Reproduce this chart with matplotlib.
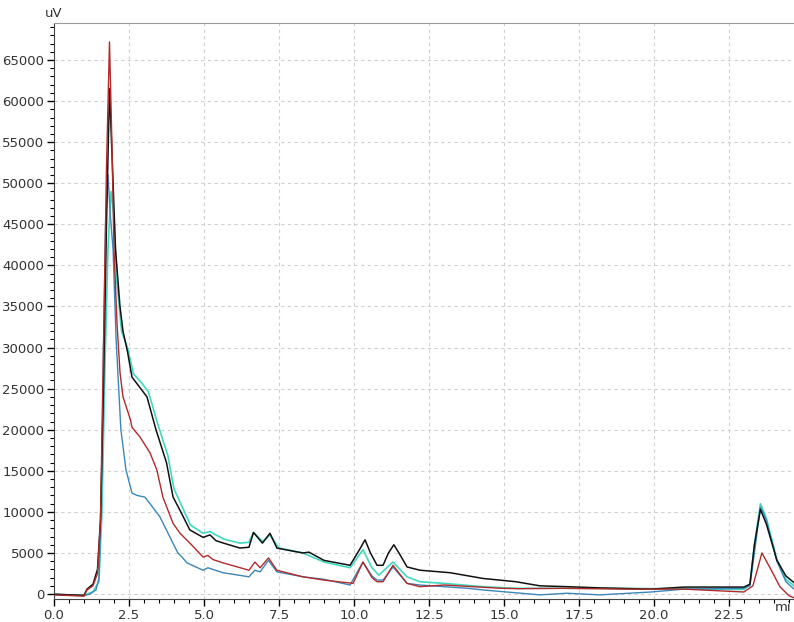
import numpy as np
import matplotlib.pyplot as plt
from matplotlib.ticker import MultipleLocator

# retention time (min) / signal (uV)
black_t = [0.0, 0.5, 1.0, 1.1, 1.3, 1.45, 1.55, 1.65, 1.75, 1.85, 1.95, 2.05, 2.2, 2.3, 2.45,
           2.6, 2.85, 3.1, 3.4, 3.75, 3.97, 4.2, 4.53, 4.97, 5.2, 5.4, 5.65, 6.2, 6.5, 6.65,
           6.95, 7.2, 7.43, 8.0, 8.3, 8.5, 9.0, 9.87, 10.2, 10.37, 10.55, 10.77, 10.97, 11.15,
           11.33, 11.5, 11.77, 12.2, 13.2, 14.3, 15.4, 16.2, 17.1, 18.2, 19.9, 21.0, 23.0,
           23.2, 23.35, 23.55, 23.75, 24.1, 24.4, 24.7]
black_v = [0, -100, -150, 600, 1200, 3000, 9000, 25000, 45000, 61500, 52000, 42000, 35000,
           32000, 29500, 26400, 25200, 24000, 20000, 16000, 11800, 10200, 7800, 6900, 7200,
           6500, 6200, 5600, 5700, 7500, 6200, 7400, 5600, 5200, 5000, 5100, 4100, 3500, 5500,
           6600, 5000, 3500, 3500, 5000, 6000, 5000, 3300, 2900, 2600, 1900, 1500, 1000, 900,
           750, 600, 850, 850, 1200, 6000, 10300, 8500, 4100, 2200, 1300]

red_t = [0.0, 1.0, 1.1, 1.3, 1.45, 1.55, 1.65, 1.75, 1.85, 1.93, 2.0, 2.1, 2.2, 2.3, 2.55,
         2.6, 2.87, 3.2, 3.43, 3.63, 3.97, 4.2, 4.53, 4.97, 5.13, 5.3, 5.63, 6.5, 6.7, 6.87,
         7.15, 7.43, 8.3, 9.0, 9.97, 10.3, 10.6, 10.77, 10.97, 11.3, 11.77, 12.2, 13.0, 14.9,
         15.5, 17.0, 19.0, 21.0, 23.0, 23.3, 23.6, 23.9, 24.2, 24.5, 24.7]
red_v = [-100, -250, 500, 1000, 2500, 9000, 30000, 52000, 67200, 55000, 42000, 33000, 27000,
         24000, 21200, 20300, 19100, 17200, 15100, 11800, 8600, 7400, 6200, 4500, 4700, 4200,
         3800, 2900, 3900, 3200, 4400, 2900, 2100, 1700, 1300, 3900, 2000, 1500, 1500, 3500,
         1300, 900, 1100, 700, 650, 700, 600, 600, 250, 1000, 5000, 3000, 900, -200, -500]

blue_t = [0.0, 1.0, 1.2, 1.4, 1.5, 1.58, 1.65, 1.72, 1.8, 1.88, 1.97, 2.07, 2.23, 2.4, 2.6,
          2.77, 3.03, 3.2, 3.53, 3.87, 4.13, 4.27, 4.43, 4.97, 5.13, 5.63, 6.5, 6.7, 6.87,
          7.15, 7.43, 8.3, 9.0, 9.87, 10.3, 10.6, 10.77, 10.97, 11.3, 11.77, 12.2, 13.8, 14.3,
          16.2, 17.1, 18.2, 19.9, 21.0, 23.0, 23.2, 23.35, 23.55, 23.75, 24.1, 24.4, 24.7]
blue_v = [-100, -200, 0, 500, 2000, 12000, 30000, 45000, 51000, 46000, 41900, 31000, 20000,
          15100, 12300, 12000, 11800, 11000, 9400, 6900, 5000, 4500, 3800, 2900, 3200, 2600,
          2100, 2900, 2700, 4100, 2700, 2100, 1800, 1100, 3900, 2200, 1700, 1700, 3300, 1300,
          1100, 700, 500, -100, 100, -100, 250, 600, 700, 1000, 5000, 10600, 9000, 4000, 1500, 500]

cyan_t = [0.0, 1.0, 1.3, 1.5, 1.6, 1.7, 1.8, 1.9, 2.0, 2.1, 2.25, 2.45, 2.65, 2.9, 3.15, 3.45,
          3.8, 4.0, 4.25, 4.55, 4.97, 5.2, 5.65, 6.2, 6.5, 6.65, 6.95, 7.2, 7.5, 8.3, 9.0, 9.87,
          10.3, 10.6, 10.83, 11.3, 11.77, 12.2, 13.0, 14.3, 15.4, 18.2, 21.0, 23.0, 23.2, 23.35,
          23.55, 23.75, 24.1, 24.4, 24.7]
cyan_v = [-50, -150, 300, 1500, 10000, 28000, 42000, 49000, 46000, 38000, 32000, 30000, 26800,
          25800, 24600, 20800, 16800, 12800, 10800, 8400, 7400, 7600, 6700, 6200, 6300, 7500,
          6400, 7200, 5600, 5000, 3900, 3200, 5400, 3200, 2300, 3900, 2100, 1500, 1300, 900,
          700, 700, 650, 550, 1200, 6000, 11000, 9200, 4200, 1800, 900]

fig = plt.figure(figsize=(7.94, 6.22), dpi=100)
ax = fig.add_axes([0.068, 0.037, 0.932, 0.926])

ax.plot(cyan_t, cyan_v, color='#3fd9c0', lw=1.2)
ax.plot(blue_t, blue_v, color='#3b86b8', lw=1.0)
ax.plot(black_t, black_v, color='#111111', lw=1.1)
ax.plot(red_t, red_v, color='#b22a2a', lw=1.0)

ax.set_xlim(0, 24.67)
ax.set_ylim(-600, 69500)

ax.xaxis.set_major_locator(MultipleLocator(2.5))
ax.xaxis.set_minor_locator(MultipleLocator(0.5))
ax.yaxis.set_major_locator(MultipleLocator(5000))
ax.yaxis.set_minor_locator(MultipleLocator(1000))
ax.xaxis.set_major_formatter(lambda v, p: '{:.1f}'.format(v))
ax.yaxis.set_major_formatter(lambda v, p: '{:d}'.format(int(v)))

ax.grid(True, which='major', color='#d0d0d0', ls=(0, (3, 3)), lw=0.8)
ax.tick_params(which='major', direction='out', length=5, width=1, labelsize=9.5,
               labelcolor='#333333', pad=2)
ax.tick_params(which='minor', direction='out', length=3, width=0.8)

ax.spines['right'].set_visible(False)
ax.spines['top'].set_color('#999999')
ax.spines['left'].set_color('#444444')
ax.spines['bottom'].set_color('#444444')

fig.text(0.068, 0.978, 'uV', fontsize=9.5, color='#333333', ha='center', va='center')
fig.text(0.997, 0.024, 'mi', fontsize=9.5, color='#333333', ha='right', va='center')

plt.savefig('out.png', dpi=100)
